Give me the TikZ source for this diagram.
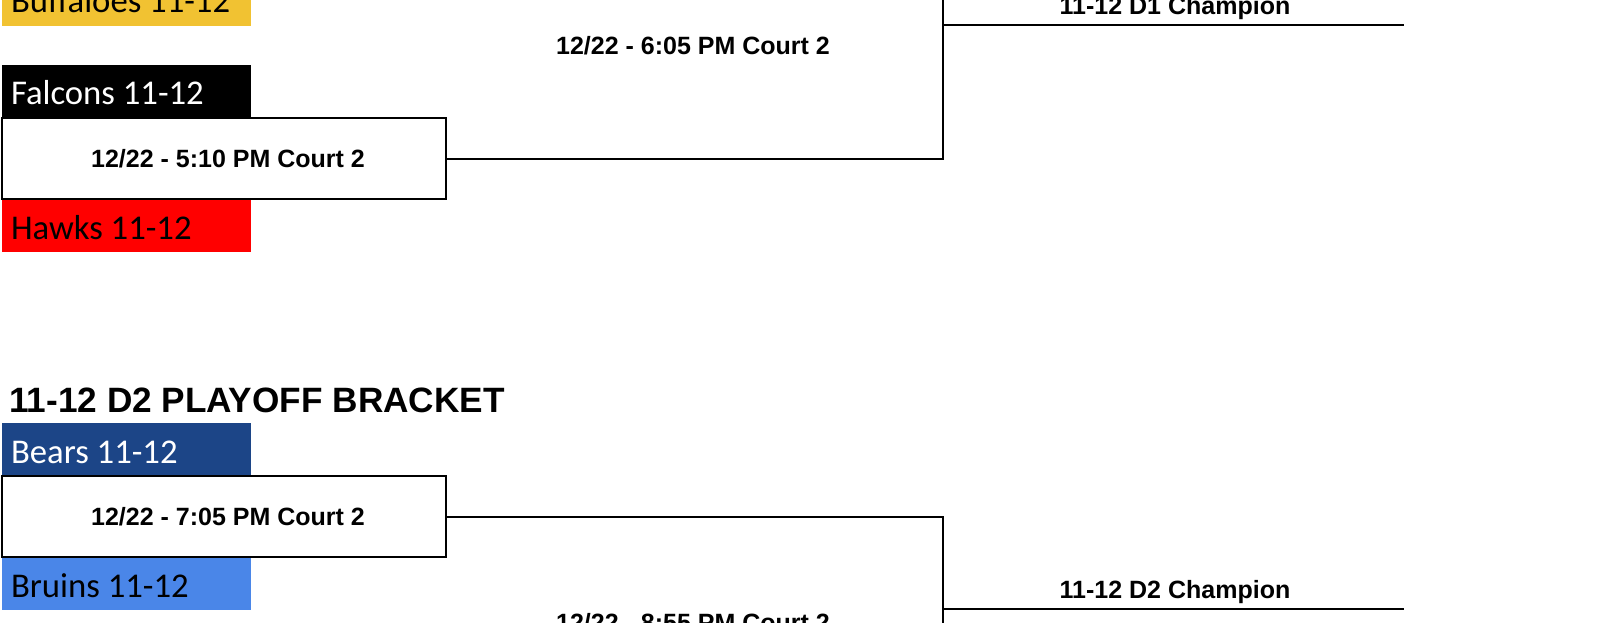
\documentclass[tikz,border=0pt]{standalone}
\usepackage{fontspec}
\setmainfont{Carlito}
\newfontfamily\arialfont{Liberation Sans}
\definecolor{buffgold}{HTML}{F1C232}
\definecolor{hawkred}{HTML}{FF0000}
\definecolor{bearblue}{HTML}{1C4587}
\definecolor{bruinblue}{HTML}{4A86E8}
\tikzset{
  team/.style={fill=#1, anchor=south west, minimum width=249pt, minimum height=53pt,
    inner xsep=9pt, inner ysep=0pt, outer sep=0pt,
    text height=27pt, text depth=0pt,
    execute at begin node={\hbox to 231pt\bgroup}, execute at end node={\hfil\egroup},
    font=\fontsize{34.7}{40}\selectfont},
  game/.style={draw, line width=2pt, minimum width=444pt, minimum height=81pt,
    inner sep=0pt, outer sep=0pt, text height=18pt, text depth=0pt,
    execute at begin node=\hspace*{8pt},
    font=\arialfont\bfseries\fontsize{25}{30}\selectfont},
  slot/.style={inner sep=0pt, text height=18pt, text depth=0pt,
    font=\arialfont\bfseries\fontsize{25}{30}\selectfont},
  wire/.style={line width=2pt}
}
\begin{document}
\begin{tikzpicture}[x=1pt, y=-1pt]
\useasboundingbox (0,0) rectangle (1600,623);
\clip (0,0) rectangle (1600,623);
% D1 bracket
\node[team=buffgold] (buff) at (2,26) {Buffaloes 11-12};
\node[team=black, text=white] (falc) at (2,118) {Falcons 11-12};
\node[team=hawkred] (hawk) at (2,252) {Hawks 11-12};
\node[game] (g1) at (224,158.5) {12/22 - 5:10 PM Court 2};
\coordinate (d1top) at (943,-60);
\draw[wire] (g1.east) -| (d1top);
\node[slot] (f1) at (693,45.5) {12/22 - 6:05 PM Court 2};
\coordinate (d1champ) at (943,25);
\coordinate (d1end) at (1404,25);
\draw[wire] (d1champ) -- (d1end);
\node[slot, anchor=base] (ch1) at (1175,15) {11-12 D1 Champion};
% D2 bracket
\node[anchor=base west, inner sep=0pt, font=\arialfont\bfseries\fontsize{35.2}{40}\selectfont] (title2) at (9,412) {11-12 D2 PLAYOFF BRACKET};
\node[team=bearblue, text=white] (bear) at (2,476) {Bears 11-12};
\node[team=bruinblue] (bruin) at (2,610) {Bruins 11-12};
\node[game] (g2) at (224,516.5) {12/22 - 7:05 PM Court 2};
\coordinate (d2bot) at (943,680);
\draw[wire] (g2.east) -| (d2bot);
\coordinate (d2champ) at (943,609);
\coordinate (d2end) at (1404,609);
\draw[wire] (d2champ) -- (d2end);
\node[slot, anchor=base] (ch2) at (1175,598) {11-12 D2 Champion};
\node[slot] (f2) at (693,622) {12/22 - 8:55 PM Court 2};
\end{tikzpicture}
\end{document}
